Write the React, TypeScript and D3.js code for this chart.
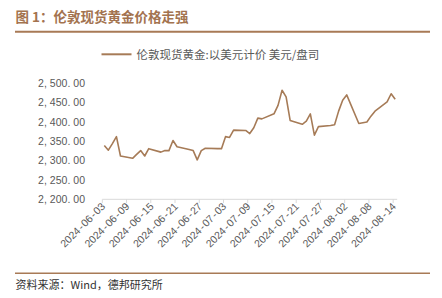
import React from "react";
import * as d3 from "d3";

const dates = [
  "2024-06-03","2024-06-04","2024-06-05","2024-06-06","2024-06-07",
  "2024-06-10","2024-06-11","2024-06-12","2024-06-13","2024-06-14",
  "2024-06-17","2024-06-18","2024-06-19","2024-06-20","2024-06-21",
  "2024-06-24","2024-06-25","2024-06-26","2024-06-27","2024-06-28",
  "2024-07-01","2024-07-02","2024-07-03","2024-07-04","2024-07-05",
  "2024-07-08","2024-07-09","2024-07-10","2024-07-11","2024-07-12",
  "2024-07-15","2024-07-16","2024-07-17","2024-07-18","2024-07-19",
  "2024-07-22","2024-07-23","2024-07-24","2024-07-25","2024-07-26",
  "2024-07-29","2024-07-30","2024-07-31","2024-08-01","2024-08-02",
  "2024-08-05","2024-08-06","2024-08-07","2024-08-08","2024-08-09",
  "2024-08-12","2024-08-13","2024-08-14",
];
const prices = [
  2339, 2327, 2344, 2362, 2312,
  2306, 2316, 2326, 2312, 2331,
  2322, 2326, 2326, 2352, 2336,
  2329, 2326, 2302, 2326, 2332,
  2331, 2331, 2362, 2360, 2379,
  2378, 2370, 2385, 2410, 2408,
  2421, 2443, 2482, 2465, 2404,
  2394, 2402, 2421, 2366, 2388,
  2391, 2393, 2428, 2456, 2470,
  2396, 2398, 2400, 2415, 2428,
  2452, 2473, 2459,
];
const xTickLabels = [
  "2024-06-03","2024-06-09","2024-06-15","2024-06-21","2024-06-27",
  "2024-07-03","2024-07-09","2024-07-15","2024-07-21","2024-07-27",
  "2024-08-02","2024-08-08","2024-08-14",
];
const yTicks = [2200, 2250, 2300, 2350, 2400, 2450, 2500];
const titleText = "图 1：伦敦现货黄金价格走强";
const legendText = "伦敦现货黄金:以美元计价 美元/盘司";
const sourceText = "资料来源：Wind，德邦研究所";

const parse = d3.timeParse("%Y-%m-%d");
const BROWN = "#a67b57";
const CJK = "'Noto Sans CJK SC', sans-serif";
const NUM = "'Liberation Sans', Arial, sans-serif";

// renders text with extra space after punctuation (wide punctuation look)
function Spaced({ s, gap }: { s: string; gap: number }) {
  const parts = s.split(/([,.\-])/).filter((p) => p !== "");
  let extra = 0;
  return (
    <>
      {parts.map((p, i) => {
        const isP = /[,.\-]/.test(p);
        const dx = i === 0 ? 0 : extra + (p === "-" ? gap : 0);
        extra = isP ? gap : 0;
        return (
          <tspan key={i} dx={dx}>
            {p}
          </tspan>
        );
      })}
    </>
  );
}

export default function App() {
  const data = dates.map((d, i) => ({ date: parse(d)!, value: prices[i] }));
  const x = d3
    .scaleTime()
    .domain([parse("2024-06-03")!, parse("2024-08-15")!])
    .range([102.3, 397.2]);
  const y = d3.scaleLinear().domain([2200, 2500]).range([199.3, 83.3]);
  const mid = (d: Date) => x(d3.timeHour.offset(d, 12));
  const line = d3
    .line<{ date: Date; value: number }>()
    .x((d) => mid(d.date))
    .y((d) => y(d.value));
  const fmt = d3.format(",.2f");
  const x0 = x.range()[0];
  const x1 = x.range()[1];

  return (
    <svg
      width={442}
      height={298}
      style={{ position: "absolute", left: 0, top: 0, background: "#fff" }}
    >
      <text
        x={15.5}
        y={22}
        fontFamily={CJK}
        fontSize={13.5}
        fontWeight="bold"
        fill="#a3734f"
      >
        {titleText}
      </text>
      <line x1={15} x2={430} y1={31.8} y2={31.8} stroke="#a87a56" strokeWidth={2} />

      {/* legend */}
      <line x1={101.5} x2={131.5} y1={54.3} y2={54.3} stroke={BROWN} strokeWidth={2} />
      <text x={136.5} y={58.5} fontFamily={CJK} fontSize={11.5} fill="#595959">
        {legendText}
      </text>

      {/* y tick labels */}
      {yTicks.map((t) => (
        <text
          key={t}
          x={85}
          y={y(t) + 3.8}
          textAnchor="end"
          fontFamily={NUM}
          fontSize={10.5}
          fill="#595959"
        >
          <Spaced s={fmt(t)} gap={3} />
        </text>
      ))}

      {/* x axis */}
      <line x1={x0} x2={x1} y1={199.3} y2={199.3} stroke="#d9d9d9" strokeWidth={1} />
      {xTickLabels.map((s) => {
        const tx = x(parse(s)!);
        return (
          <g key={s}>
            <line x1={tx} x2={tx} y1={199.3} y2={203} stroke="#d9d9d9" strokeWidth={1} />
            <text
              transform={`translate(${tx + 3.5},${207}) rotate(-45)`}
              textAnchor="end"
              fontFamily={NUM}
              fontSize={10.5}
              fill="#595959"
            >
              <Spaced s={s} gap={1.1} />
            </text>
          </g>
        );
      })}

      <path d={line(data) || ""} fill="none" stroke={BROWN} strokeWidth={1.6} strokeLinejoin="round" />

      {/* footer */}
      <line x1={15} x2={430} y1={273.3} y2={273.3} stroke="#a87a56" strokeWidth={1.5} />
      <text x={15.5} y={289} fontFamily={CJK} fontSize={11} fill="#333">
        {sourceText}
      </text>
    </svg>
  );
}
